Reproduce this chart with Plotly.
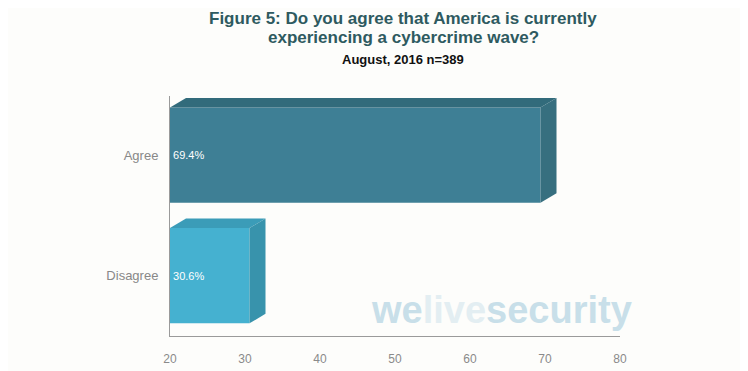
import plotly.graph_objects as go

categories = ["Agree", "Disagree"]
values = [69.4, 30.6]
label_texts = ["69.4%", "30.6%"]
x_ticks = [20, 30, 40, 50, 60, 70, 80]

front_colors = ["#3e7f95", "#45b1d0"]
top_colors = ["#326b7b", "#3b9cb8"]
side_colors = ["#376f7f", "#3893ac"]

title_line1 = "Figure 5: Do you agree that America is currently"
title_line2 = "experiencing a cybercrime wave?"
subtitle = "August, 2016 n=389"

# page is rendered with an 8px body margin, so the figure is made smaller
OFF = 8
W, H = 748 - 2 * OFF, 371 - OFF
ml, mr, mt, mb = 170 - OFF, 128 - OFF, 96 - OFF, 35
x_min, x_max = x_ticks[0], x_ticks[-1]
y_min, y_max = -0.5, 1.49
px_per_x = (W - ml - mr) / (x_max - x_min)
px_per_y = (H - mt - mb) / (y_max - y_min)

depth_x = 16 / px_per_x
depth_y = 9.5 / px_per_y
bar_w = 0.79

ypos = [len(categories) - 1 - i for i in range(len(categories))]

fig = go.Figure()
fig.add_trace(go.Bar(
    y=ypos, x=[v - x_min for v in values], base=x_min, orientation="h",
    width=bar_w, marker=dict(color=front_colors, line=dict(width=0)),
    text=label_texts, textposition="inside", insidetextanchor="start",
    textfont=dict(color="white", size=11, family="Liberation Sans, Arial"),
    hoverinfo="skip", showlegend=False, cliponaxis=False,
))

shapes = []
for yp, v, tc, sc in zip(ypos, values, top_colors, side_colors):
    yt = yp + bar_w / 2
    yb = yp - bar_w / 2
    shapes.append(dict(
        type="path", xref="x", yref="y", layer="above",
        path=f"M {x_min},{yt} L {x_min + depth_x},{yt + depth_y} L {v + depth_x},{yt + depth_y} L {v},{yt} Z",
        fillcolor=tc, line=dict(width=0),
    ))
    shapes.append(dict(
        type="path", xref="x", yref="y", layer="above",
        path=f"M {v},{yb} L {v + depth_x},{yb + depth_y} L {v + depth_x},{yt + depth_y} L {v},{yt} Z",
        fillcolor=sc, line=dict(width=0),
    ))

pw = W - ml - mr
ph = H - mt - mb
cx = (403 - OFF - ml) / pw


def ypaper(page_y):
    return (H - mb - (page_y - OFF)) / ph


fig.update_layout(
    width=W, height=H,
    margin=dict(l=ml, r=mr, t=mt, b=mb),
    paper_bgcolor="#fdfdfb", plot_bgcolor="rgba(0,0,0,0)",
    shapes=shapes,
    xaxis=dict(
        range=[x_min, x_max], tickvals=x_ticks, showgrid=False, zeroline=False,
        showline=True, linecolor="#9a9a9a", linewidth=1, ticks="",
        ticklabelstandoff=12, automargin=False,
        tickfont=dict(color="#8a8a8a", size=12, family="Liberation Sans, Arial"),
        fixedrange=True,
    ),
    yaxis=dict(
        range=[y_min, y_max], tickvals=ypos, ticktext=categories,
        showgrid=False, zeroline=False, showline=True, linecolor="#9a9a9a",
        linewidth=1, ticks="", ticklabelstandoff=8, automargin=False,
        tickfont=dict(color="#888888", size=13, family="Liberation Sans, Arial"),
        fixedrange=True,
    ),
    annotations=[
        dict(text=f"<b>{title_line1}</b>", xref="paper", yref="paper",
             x=cx, xanchor="center", y=ypaper(18), yanchor="middle",
             showarrow=False, font=dict(size=17, color="#2e5a60", family="Liberation Sans, Arial")),
        dict(text=f"<b>{title_line2}</b>", xref="paper", yref="paper",
             x=cx, xanchor="center", y=ypaper(37), yanchor="middle",
             showarrow=False, font=dict(size=17, color="#2e5a60", family="Liberation Sans, Arial")),
        dict(text=f"<b>{subtitle}</b>", xref="paper", yref="paper",
             x=cx, xanchor="center", y=ypaper(59), yanchor="middle",
             showarrow=False, font=dict(size=13, color="#111111", family="Liberation Sans, Arial")),
        dict(text="<b><span style='color:#c8dfe9'>we</span><span style='color:#e3eef2'>live</span><span style='color:#c8dfe9'>security</span></b>",
             xref="paper", yref="paper", x=(501 - OFF - ml) / pw, xanchor="center",
             y=ypaper(310), yanchor="middle", showarrow=False,
             font=dict(size=38, family="Liberation Sans, Arial")),
    ],
)

fig.write_html("out.html")
